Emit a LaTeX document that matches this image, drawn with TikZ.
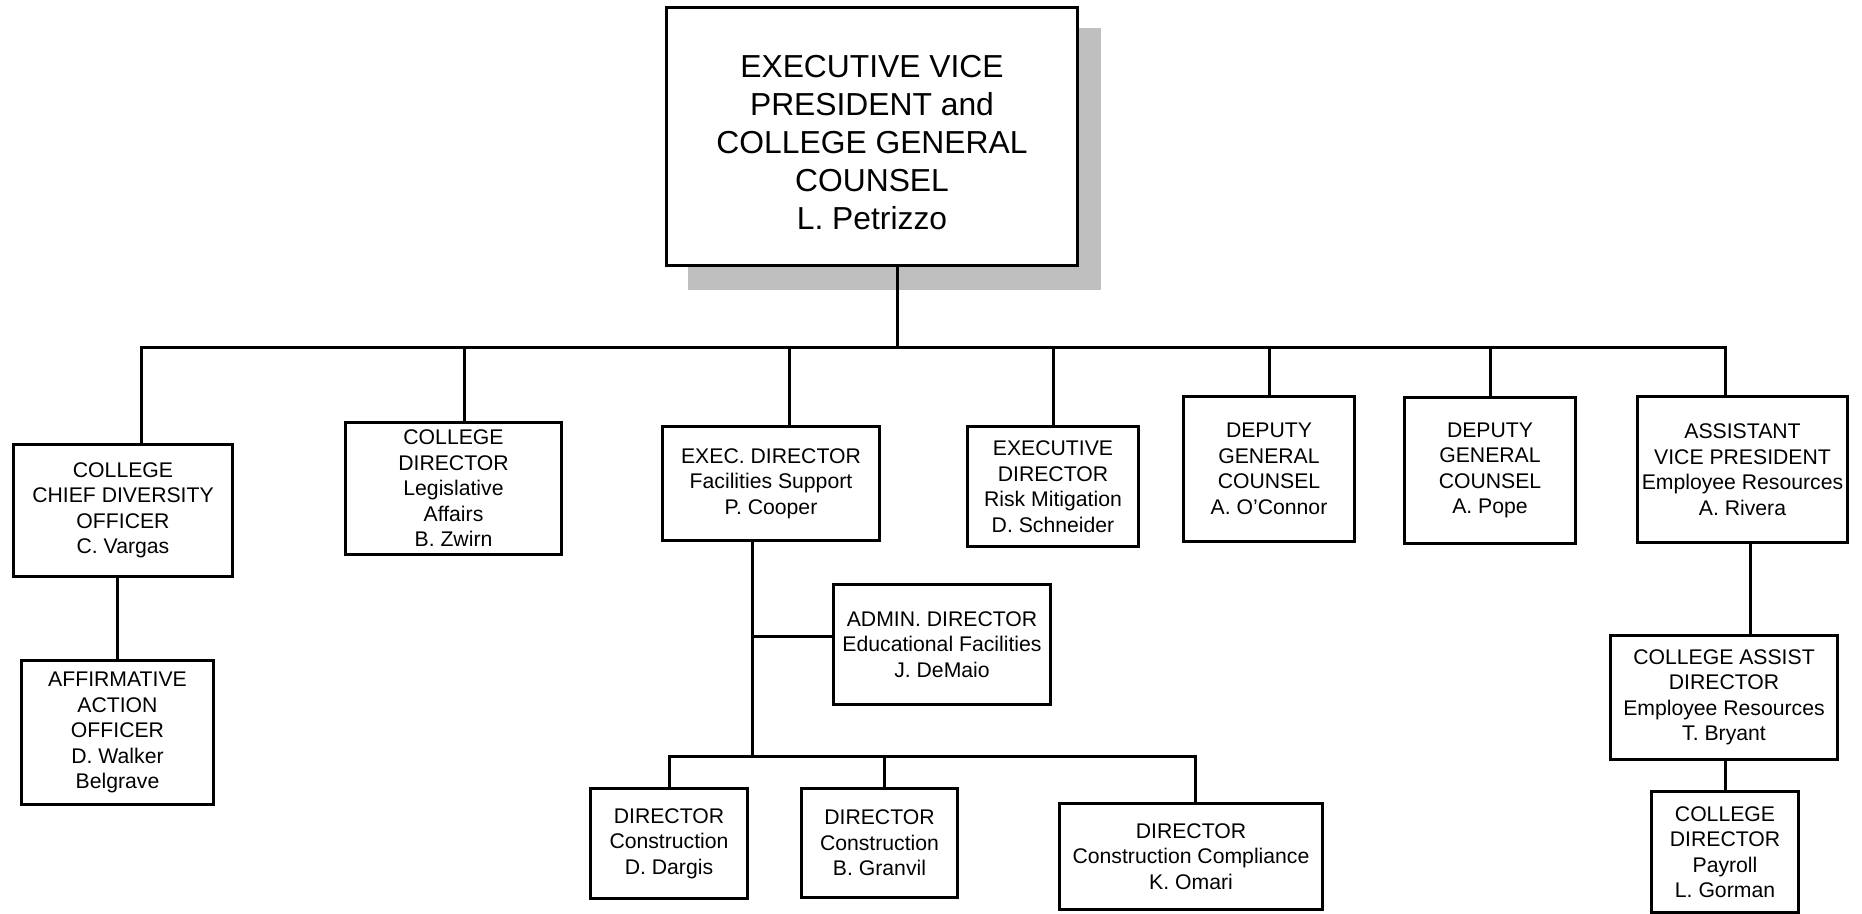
\documentclass[tikz,border=0pt]{standalone}
\usepackage{fontspec}
\setmainfont{Liberation Sans}
\begin{document}
\begin{tikzpicture}[x=1pt,y=-1pt,
  box/.style={draw, line width=3pt, fill=white, align=center, inner sep=0pt,
    anchor=north west, font=\fontsize{21.2}{25.5}\selectfont},
  bigtext/.style={align=center, inner sep=0pt, font=\fontsize{31.8}{38}\selectfont},
  conn/.style={line width=3pt}]
\useasboundingbox (0,0) rectangle (1862,913);
% shadow and top box
\fill[gray!50] (688,28) rectangle (1101,290);
\node[box, minimum width=411, minimum height=258] (top) at (665,6) {};
\node[bigtext] (toptext) at ([yshift=-6.4pt]top.center)
  {EXECUTIVE VICE\\PRESIDENT and\\COLLEGE GENERAL\\COUNSEL\\L. Petrizzo};
% second level
\node[box, minimum width=219, minimum height=132] (vargas) at (12,443)
  {COLLEGE\\CHIEF DIVERSITY\\OFFICER\\C. Vargas};
\node[box, minimum width=216, minimum height=132] (zwirn) at (344,421)
  {COLLEGE\\DIRECTOR\\Legislative\\Affairs\\B. Zwirn};
\node[box, minimum width=217, minimum height=114] (cooper) at (661,425)
  {EXEC. DIRECTOR\\Facilities Support\\P. Cooper};
\node[box, minimum width=171, minimum height=120] (schneider) at (966,425)
  {EXECUTIVE\\DIRECTOR\\Risk Mitigation\\D. Schneider};
\node[box, minimum width=171, minimum height=145] (oconnor) at (1182,395)
  {DEPUTY\\GENERAL\\COUNSEL\\A. O’Connor};
\node[box, minimum width=171, minimum height=146] (pope) at (1403,396)
  {DEPUTY\\GENERAL\\COUNSEL\\A. Pope};
\node[box, minimum width=210, minimum height=146] (rivera) at (1636,395)
  {ASSISTANT\\VICE PRESIDENT\\Employee Resources\\A. Rivera};
% lower levels
\node[box, minimum width=192, minimum height=144] (affirm) at (20,659)
  {AFFIRMATIVE\\ACTION\\OFFICER\\D. Walker\\Belgrave};
\node[box, minimum width=217, minimum height=120] (demaio) at (832,583)
  {ADMIN. DIRECTOR\\Educational Facilities\\J. DeMaio};
\node[box, minimum width=157, minimum height=110] (dargis) at (589,787)
  {DIRECTOR\\Construction\\D. Dargis};
\node[box, minimum width=156, minimum height=109] (granvil) at (800,787)
  {DIRECTOR\\Construction\\B. Granvil};
\node[box, minimum width=263, minimum height=106] (omari) at (1058,802)
  {DIRECTOR\\Construction Compliance\\K. Omari};
\node[box, minimum width=227, minimum height=124] (bryant) at (1609,634)
  {COLLEGE ASSIST\\DIRECTOR\\Employee Resources\\T. Bryant};
\node[box, minimum width=147, minimum height=121] (gorman) at (1650,790)
  {COLLEGE\\DIRECTOR\\Payroll\\L. Gorman};
% connectors
\coordinate (bus) at (0,347);
\coordinate (bus2) at (0,756);
\coordinate (ts) at ([xshift=25.5pt]top.south);
\coordinate (s1) at ([xshift=18.5pt]vargas.north);
\coordinate (s2) at ([xshift=11pt]zwirn.north);
\coordinate (s3) at ([xshift=18.5pt]cooper.north);
\coordinate (s7) at ([xshift=-17.5pt]rivera.north);
\draw[conn] (ts) -- (ts |- bus);
\draw[conn] (s1) -- (s1 |- bus) -- (s7 |- bus) -- (s7);
\draw[conn] (s2) -- (s2 |- bus);
\draw[conn] (s3) -- (s3 |- bus);
\draw[conn] (schneider.north) -- (schneider.north |- bus);
\draw[conn] (oconnor.north) -- (oconnor.north |- bus);
\draw[conn] (pope.north) -- (pope.north |- bus);
\draw[conn] (affirm.north) -- (affirm.north |- vargas.south);
\coordinate (cs) at ([xshift=-18.5pt]cooper.south);
\draw[conn] (cs) -- (cs |- bus2);
\coordinate (dm) at ([yshift=8pt]demaio.west);
\draw[conn] (dm) -- (dm -| cs);
\coordinate (so) at ([xshift=4.5pt]omari.north);
\coordinate (sg) at ([xshift=5pt]granvil.north);
\draw[conn] (dargis.north) -- (dargis.north |- bus2) -- (so |- bus2) -- (so);
\draw[conn] (sg) -- (sg |- bus2);
\coordinate (rv) at ([xshift=7.5pt]rivera.south);
\draw[conn] (rv) -- (rv |- bryant.north);
\draw[conn] (gorman.north) -- (gorman.north |- bryant.south);
\end{tikzpicture}
\end{document}
